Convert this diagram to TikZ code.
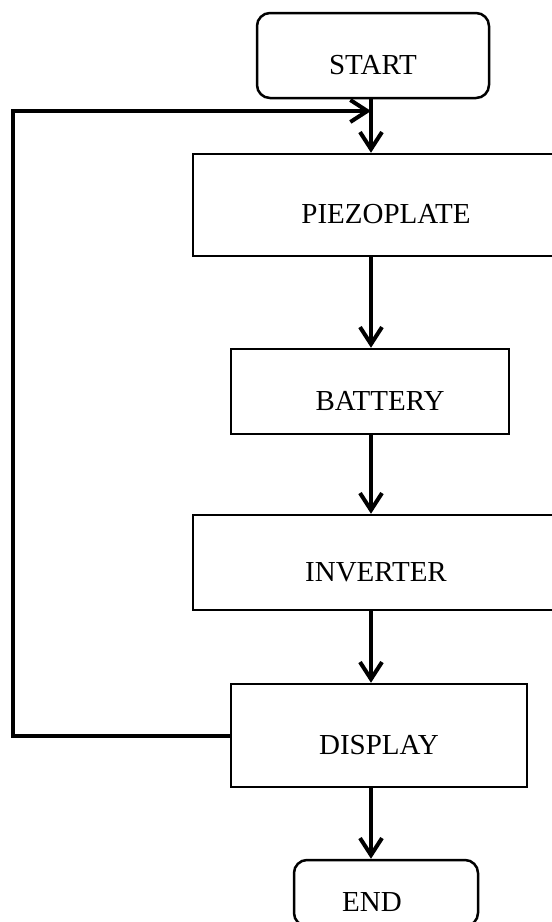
\documentclass[tikz,border=0pt]{standalone}
\usepackage{fontspec}
\setmainfont{Liberation Serif}
\usetikzlibrary{arrows.meta}
\begin{document}
\begin{tikzpicture}[x=1pt,y=-1pt,
  box/.style={draw=black,line width=2.5pt,fill=white,inner sep=0pt,text height=37pt,text depth=0pt,font=\fontsize{29}{34}\selectfont},
  term/.style={box,rounded corners=13pt},
  flow/.style={line width=4pt,-{Straight Barb[length=17pt,width=22pt]}}]
\useasboundingbox (0,0) rectangle (552,922);
\clip (0,0) rectangle (552,922);
\fill[white] (0,0) rectangle (552,922);
\coordinate (axis) at (371,0);
\coordinate (loopleft) at (13,0);
\coordinate (loopjoin) at (371,111);
\node[term,minimum width=232pt,minimum height=85pt] (start) at (373,55.5) {START};
\node[box,minimum width=386pt,minimum height=102pt] (piezo) at (386,205) {PIEZOPLATE};
\node[box,minimum width=278pt,minimum height=85pt] (battery) at (370,391.5) {\hspace*{20pt}BATTERY};
\node[box,minimum width=366pt,minimum height=95pt] (inverter) at (376,562.5) {INVERTER};
\node[box,minimum width=296pt,minimum height=103pt] (display) at (379,735.5) {DISPLAY};
\node[term,minimum width=184pt,minimum height=66pt] (end) at (386,893) {END\hspace*{28pt}};
\draw[flow] (start.south -| axis) -- (piezo.north -| axis);
\draw[flow] (piezo.south -| axis) -- (battery.north -| axis);
\draw[flow] (battery.south -| axis) -- (inverter.north -| axis);
\draw[flow] (inverter.south -| axis) -- (display.north -| axis);
\draw[flow] (display.south -| axis) -- (end.north -| axis);
\draw[flow] (display.west) -| (loopleft |- loopjoin) -- (loopjoin);
\end{tikzpicture}
\end{document}
